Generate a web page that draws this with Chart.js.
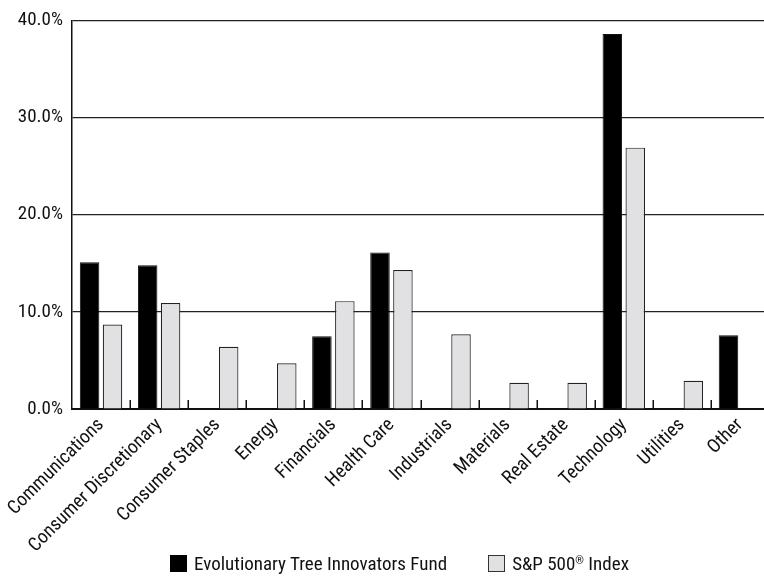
<!DOCTYPE html>
<html>
<head>
<meta charset="utf-8">
<script src="https://cdn.jsdelivr.net/npm/chart.js@4.4.1/dist/chart.umd.min.js"></script>
<style>
  html, body { margin: 0; padding: 0; background: #fff; overflow: hidden; width: 764px; height: 578px; }
  #wrap { position: absolute; left: 0; top: 0; width: 770px; height: 578px; }
  #legend { position: absolute; left: 170px; top: 552px; display: flex; align-items: center;
            font-family: 'Liberation Sans Narrow', 'Roboto Condensed', 'Arial Narrow', sans-serif; font-size: 19px; color: #111; }
  .item { display: flex; align-items: center; }
  .sw { width: 17px; height: 17px; box-sizing: border-box; margin-right: 7px; }
  sup { font-size: 11px; vertical-align: 6px; line-height: 0; }
</style>
</head>
<body>
<div id="wrap"><canvas id="c" width="770" height="578"></canvas></div>
<div id="legend"></div>
<script>
const categories = ['Communications', 'Consumer Discretionary', 'Consumer Staples', 'Energy', 'Financials',
  'Health Care', 'Industrials', 'Materials', 'Real Estate', 'Technology', 'Utilities', 'Other'];
const fundName = 'Evolutionary Tree Innovators Fund';
const indexName = 'S&P 500\u00AE Index';
const fundValues = [15.1, 14.8, 0, 0, 7.5, 16.1, 0, 0, 0, 38.6, 0, 7.6];
const indexValues = [8.7, 10.9, 6.4, 4.7, 11.1, 14.3, 7.7, 2.7, 2.7, 26.9, 2.9, 0];
const yTicks = [0, 10, 20, 30, 40];

const FONT = "'Liberation Sans Narrow', 'Roboto Condensed', 'Arial Narrow', sans-serif";
const fundColor = '#000000';
const indexColor = '#e1e1e3';

const innerTicks = {
  id: 'innerTicks',
  afterDatasetsDraw(chart) {
    const x = chart.scales.x, ctx = chart.ctx, bottom = chart.chartArea.bottom;
    ctx.save();
    ctx.strokeStyle = '#111';
    ctx.lineWidth = 1.5;
    for (let i = 1; i < categories.length; i++) {
      const px = Math.round((x.getPixelForValue(i - 1) + x.getPixelForValue(i)) / 2) + 0.25;
      ctx.beginPath();
      ctx.moveTo(px, bottom);
      ctx.lineTo(px, bottom - 9);
      ctx.stroke();
    }
    ctx.restore();
  }
};

new Chart(document.getElementById('c'), {
  type: 'bar',
  data: {
    labels: categories,
    datasets: [
      { label: fundName, data: fundValues, backgroundColor: fundColor, borderColor: '#111', borderWidth: 1 },
      { label: indexName, data: indexValues, backgroundColor: indexColor, borderColor: '#222', borderWidth: 1.2 }
    ]
  },
  options: {
    responsive: false,
    animation: false,
    devicePixelRatio: 1,
    datasets: { bar: { categoryPercentage: 0.79, barPercentage: 0.85 } },
    layout: { padding: { top: 20, right: 1, left: 0, bottom: 0 } },
    plugins: { legend: { display: false }, tooltip: { enabled: false } },
    scales: {
      x: {
        grid: { display: false },
        border: { display: true, color: '#111', width: 2 },
        ticks: { color: '#111', font: { family: FONT, size: 19 }, minRotation: 45, maxRotation: 45, autoSkip: false, padding: -3 },
        afterFit(s) { s.height = 169; }
      },
      y: {
        min: 0, max: 40,
        afterBuildTicks(s) { s.ticks = yTicks.map(v => ({ value: v })); },
        grid: { color: '#222', lineWidth: 1.2, drawTicks: false },
        border: { display: true, color: '#111', width: 1.5 },
        ticks: { color: '#111', font: { family: FONT, size: 19 }, padding: 9, callback: v => v.toFixed(1) + '%' },
        afterFit(s) { s.width = 72; }
      }
    }
  },
  plugins: [innerTicks]
});

const legend = document.getElementById('legend');
[[fundName, fundColor, '#000'], [indexName, indexColor, '#333']].forEach((d, i) => {
  const it = document.createElement('div');
  it.className = 'item';
  if (i > 0) it.style.marginLeft = '41px';
  const sw = document.createElement('div');
  sw.className = 'sw';
  sw.style.background = d[1];
  sw.style.border = '1px solid ' + d[2];
  const t = document.createElement('span');
  d[0].split('\u00AE').forEach((part, j) => {
    if (j > 0) { const s = document.createElement('sup'); s.textContent = '\u00AE'; t.appendChild(s); }
    t.appendChild(document.createTextNode(part));
  });
  it.appendChild(sw); it.appendChild(t);
  legend.appendChild(it);
});
</script>
</body>
</html>
